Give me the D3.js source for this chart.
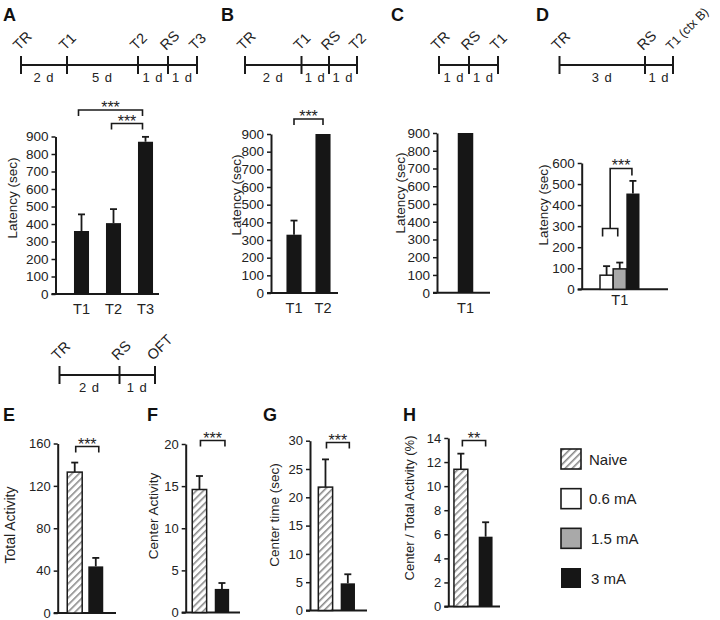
<!DOCTYPE html>
<html><head><meta charset="utf-8">
<script src="https://cdn.jsdelivr.net/npm/d3@7"></script>
<style>
body{margin:0;background:#fff}
text{font-family:"Liberation Sans",Arial,Helvetica,sans-serif;fill:#222}
</style>
</head><body>
<svg id="c" width="720" height="620"></svg>
<script>
// ---------------- DATA ----------------
// Timelines (event labels and day intervals)
const tlALabels = ["TR", "T1", "T2", "RS", "T3"];
const tlADays = [2, 5, 1, 1];
const tlBLabels = ["TR", "T1", "RS", "T2"];
const tlBDays = [2, 1, 1];
const tlCLabels = ["TR", "RS", "T1"];
const tlCDays = [1, 1];
const tlDLabels = ["TR", "RS", "T1 (ctx B)"];
const tlDDays = [3, 1];
const tlELabels = ["TR", "RS", "OFT"];
const tlEDays = [2, 1];

// Panel A
const catsA = ["T1", "T2", "T3"];
const valsA = [360, 405, 870];
const errsA = [95, 80, 28];
// Panel B
const catsB = ["T1", "T2"];
const valsB = [330, 900];
const errsB = [80, 0];
// Panel C
const catsC = ["T1"];
const valsC = [900];
const errsC = [0];
// Panel D (shock intensity groups at T1)
const groupsD = ["0.6 mA", "1.5 mA", "3 mA"];
const valsD = [67, 97, 455];
const errsD = [43, 30, 60];
// Panels E-H (Naive vs 3 mA)
const groupsEH = ["Naive", "3 mA"];
const valsE = [133, 44];
const errsE = [9, 8];
const valsF = [14.6, 2.8];
const errsF = [1.6, 0.7];
const valsG = [21.8, 4.8];
const errsG = [4.9, 1.6];
const valsH = [11.4, 5.8];
const errsH = [1.3, 1.2];
// Legend
const legendLabels = ["Naive", "0.6 mA", "1.5 mA", "3 mA"];
// Axis ticks
const ticksLatency900 = d3.range(0, 901, 100);
const ticksLatency600 = d3.range(0, 601, 100);
const ticksE = [0, 40, 80, 120, 160];
const ticksF = [0, 5, 10, 15, 20];
const ticksG = [0, 5, 10, 15, 20, 25, 30];
const ticksH = [0, 2, 4, 6, 8, 10, 12, 14];

// ---------------- STYLE ----------------
const fillFor = {"Naive": "url(#hatch)", "0.6 mA": "#ffffff", "1.5 mA": "#a9a9a9", "3 mA": "#161616"};
const INK = "#1a1a1a";

const svg = d3.select("#c");
svg.append("rect").attr("width", 720).attr("height", 620).attr("fill", "#fff");

const defs = svg.append("defs");
const pat = defs.append("pattern").attr("id", "hatch").attr("patternUnits", "userSpaceOnUse")
  .attr("width", 5).attr("height", 5).attr("patternTransform", "rotate(45)");
pat.append("rect").attr("width", 5).attr("height", 5).attr("fill", "#fff");
pat.append("line").attr("x1", 0).attr("y1", 0).attr("x2", 0).attr("y2", 5)
  .attr("stroke", "#8a8a8a").attr("stroke-width", 3.2);

// ---------------- PANEL LETTERS ----------------
const letters = [["A", 3, 21], ["B", 221, 21], ["C", 391, 21], ["D", 536, 21],
                 ["E", 3, 421], ["F", 147, 421], ["G", 263, 421], ["H", 403, 421]];
svg.selectAll("text.letter").data(letters).join("text").attr("class", "letter")
  .attr("x", d => d[1]).attr("y", d => d[2])
  .text(d => d[0]).style("font-size", "18px").style("font-weight", "bold").style("fill", "#111");

// ---------------- TIMELINES ----------------
function timeline(labels, days, positions, lineY) {
  const cum = [0];
  days.forEach(d => cum.push(cum[cum.length - 1] + d));
  const x = d3.scaleLinear().domain(cum).range(positions);
  const g = svg.append("g");
  g.append("line").attr("x1", x(0)).attr("x2", x(cum[cum.length - 1]))
    .attr("y1", lineY).attr("y2", lineY).attr("stroke", INK).attr("stroke-width", 2);
  g.selectAll("line.tk").data(cum).join("line").attr("class", "tk")
    .attr("x1", d => x(d)).attr("x2", d => x(d)).attr("y1", lineY - 9).attr("y2", lineY + 9)
    .attr("stroke", INK).attr("stroke-width", 2);
  g.selectAll("text.evt").data(labels).join("text").attr("class", "evt")
    .attr("transform", (d, i) => `translate(${x(cum[i]) - 2},${lineY - 14}) rotate(-45)`)
    .text(d => d).style("font-size", d => d.length > 3 ? "12.5px" : "14.5px");
  g.selectAll("text.dy").data(days).join("text").attr("class", "dy")
    .attr("x", (d, i) => (x(cum[i]) + x(cum[i + 1])) / 2).attr("y", lineY + 17)
    .attr("text-anchor", "middle").text(d => d + " d").style("font-size", "13px")
    .style("letter-spacing", "1px");
}
timeline(tlALabels, tlADays, [21, 67, 138, 168, 197], 65);
timeline(tlBLabels, tlBDays, [245, 301.5, 329, 357], 65);
timeline(tlCLabels, tlCDays, [439, 469, 498], 65);
timeline(tlDLabels, tlDDays, [559.5, 645, 673], 65);
timeline(tlELabels, tlEDays, [59.5, 119.5, 155], 375);

// ---------------- BAR CHARTS ----------------
function barChart(o) {
  const g = svg.append("g");
  const y = d3.scaleLinear().domain([0, o.max]).range([o.y0, o.y1]);
  const x = d3.scaleBand().domain(o.cats).range(o.xr)
    .paddingInner(o.pad).paddingOuter(o.pad / 2);
  // baseline
  g.append("line").attr("x1", o.ax - 4).attr("x2", o.bx).attr("y1", y(0)).attr("y2", y(0))
    .attr("stroke", INK).attr("stroke-width", 2);
  // y axis
  const ax = g.append("g").attr("transform", `translate(${o.ax},0)`)
    .call(d3.axisLeft(y).tickValues(o.ticks).tickSize(4).tickSizeOuter(0).tickPadding(3));
  ax.select(".domain").attr("stroke", INK).attr("stroke-width", 2);
  ax.selectAll(".tick line").attr("stroke", INK).attr("stroke-width", 1.5);
  ax.selectAll(".tick text").style("font-size", o.tf || "13.5px")
    .style("font-family", '"Liberation Sans",Arial,sans-serif').attr("fill", "#222");
  // bars
  const data = o.cats.map((c, i) => ({c, v: o.vals[i], e: o.errs[i], f: o.fills[i]}));
  g.selectAll("rect.bar").data(data).join("rect").attr("class", "bar")
    .attr("x", d => x(d.c)).attr("width", x.bandwidth())
    .attr("y", d => y(d.v)).attr("height", d => y(0) - y(d.v))
    .attr("fill", d => d.f).attr("stroke", INK).attr("stroke-width", d => d.f === "#161616" ? 0 : 1.5);
  // error bars
  const eb = data.filter(d => d.e > 0);
  const cx = d => x(d.c) + x.bandwidth() / 2;
  g.selectAll("line.ev").data(eb).join("line").attr("class", "ev")
    .attr("x1", cx).attr("x2", cx).attr("y1", d => y(d.v)).attr("y2", d => y(d.v + d.e))
    .attr("stroke", INK).attr("stroke-width", 1.8);
  g.selectAll("line.ec").data(eb).join("line").attr("class", "ec")
    .attr("x1", d => cx(d) - 3.5).attr("x2", d => cx(d) + 3.5)
    .attr("y1", d => y(d.v + d.e)).attr("y2", d => y(d.v + d.e))
    .attr("stroke", INK).attr("stroke-width", 1.8);
  // y label
  g.append("text").attr("transform", `translate(${o.lx},${o.ly}) rotate(-90)`)
    .attr("text-anchor", "middle").text(o.ylabel).style("font-size", o.lf || "13.5px").attr("fill", "#333");
  // x labels
  if (o.xlabels === "bars") {
    g.selectAll("text.xl").data(o.cats).join("text").attr("class", "xl")
      .attr("x", d => x(d) + x.bandwidth() / 2).attr("y", y(0) + 20)
      .attr("text-anchor", "middle").text(d => d).style("font-size", "14.5px");
  } else if (o.xlabels) {
    g.append("text").attr("x", (o.xr[0] + o.xr[1]) / 2).attr("y", y(0) + 16)
      .attr("text-anchor", "middle").text(o.xlabels).style("font-size", "14.5px");
  }
  // significance brackets
  (o.brackets || []).forEach(b => {
    const xa = cx(data[b.a]) + (b.da || 0), xb = cx(data[b.b]) + (b.db || 0);
    g.append("path").attr("d", `M${xa},${b.y + (b.la || 6)}V${b.y}H${xb}V${b.y + (b.lb || 6)}`)
      .attr("fill", "none").attr("stroke", INK).attr("stroke-width", 1.6);
    g.append("text").attr("x", (xa + xb) / 2 + (b.tx || 0)).attr("y", b.y + 3)
      .attr("text-anchor", "middle").text(b.t).style("font-size", "16px");
  });
  return {x, y, cx, data, g};
}

// Panel A
barChart({cats: catsA, vals: valsA, errs: errsA, fills: catsA.map(() => "#161616"),
  max: 900, y0: 294, y1: 136.5, xr: [65.5, 161.5], pad: 0.53, ax: 55.5, bx: 159,
  ticks: ticksLatency900, ylabel: "Latency (sec)", lx: 16.5, ly: 198, xlabels: "bars",
  brackets: [{a: 0, b: 2, y: 110, t: "***", da: -3, db: -3}, {a: 1, b: 2, y: 123.5, t: "***", da: -2, db: -3}]});
// Panel B
barChart({cats: catsB, vals: valsB, errs: errsB, fills: catsB.map(() => "#161616"),
  max: 900, y0: 293, y1: 134, xr: [279.5, 337.5], pad: 0.48, ax: 271, bx: 338,
  ticks: ticksLatency900, ylabel: "Latency (sec)", lx: 241, ly: 195, xlabels: "bars",
  brackets: [{a: 0, b: 1, y: 119, t: "***"}]});
// Panel C
barChart({cats: catsC, vals: valsC, errs: errsC, fills: ["#161616"],
  max: 900, y0: 292.7, y1: 133, xr: [450, 481], pad: 0.5, ax: 437, bx: 490,
  ticks: ticksLatency900, ylabel: "Latency (sec)", lx: 405, ly: 193, xlabels: "bars"});
// Panel D
const pD = barChart({cats: groupsD, vals: valsD, errs: errsD, fills: groupsD.map(g => fillFor[g]),
  max: 600, y0: 289.3, y1: 163, xr: [600, 639.5], pad: 0, ax: 581.7, bx: 668,
  ticks: ticksLatency600, ylabel: "Latency (sec)", lx: 548, ly: 205, xlabels: "T1"});
// D nested bracket
{
  const lowY = 228.5, xa = pD.cx(pD.data[0]) - 4, xb = pD.cx(pD.data[1]) - 2;
  pD.g.append("path").attr("d", `M${xa},${lowY + 8}V${lowY}H${xb}V${lowY + 8}`)
    .attr("fill", "none").attr("stroke", INK).attr("stroke-width", 1.6);
  const mid = (xa + xb) / 2, topY = 168.5, xr = pD.cx(pD.data[2]) - 1;
  pD.g.append("path").attr("d", `M${mid},${lowY}V${topY}H${xr}V${topY + 7}`)
    .attr("fill", "none").attr("stroke", INK).attr("stroke-width", 1.6);
  pD.g.append("text").attr("x", (mid + xr) / 2).attr("y", topY + 2).attr("text-anchor", "middle")
    .text("***").style("font-size", "16px");
}
// Panel E
barChart({cats: groupsEH, vals: valsE, errs: errsE, fills: groupsEH.map(g => fillFor[g]),
  max: 160, y0: 613, y1: 443.5, xr: [64.2, 106.3], pad: 0.29, ax: 57.7, bx: 116,
  ticks: ticksE, ylabel: "Total Activity", lx: 15, ly: 525, tf: "13px", lf: "14px",
  brackets: [{a: 0, b: 1, y: 446.5, t: "***", da: 1, db: 3}]});
// Panel F
barChart({cats: groupsEH, vals: valsF, errs: errsF, fills: groupsEH.map(g => fillFor[g]),
  max: 20, y0: 612.5, y1: 444, xr: [188.2, 233.2], pad: 0.36, ax: 185.7, bx: 240,
  ticks: ticksF, ylabel: "Center Activity", lx: 157.5, ly: 516, tf: "13px",
  brackets: [{a: 0, b: 1, y: 440.5, t: "***", da: 1, db: 3}]});
// Panel G
barChart({cats: groupsEH, vals: valsG, errs: errsG, fills: groupsEH.map(g => fillFor[g]),
  max: 30, y0: 610.5, y1: 440.7, xr: [314.3, 359], pad: 0.36, ax: 310, bx: 367,
  ticks: ticksG, ylabel: "Center time (sec)", lx: 279, ly: 515, tf: "13px",
  brackets: [{a: 0, b: 1, y: 442.5, t: "***", da: 1, db: 1.5}]});
// Panel H
barChart({cats: groupsEH, vals: valsH, errs: errsH, fills: groupsEH.map(g => fillFor[g]),
  max: 14, y0: 606.5, y1: 438, xr: [448.5, 498], pad: 0.44, ax: 448.3, bx: 500,
  ticks: ticksH, ylabel: "Center / Total Activity (%)", lx: 414, ly: 508, tf: "13px", lf: "13px",
  brackets: [{a: 0, b: 1, y: 440.5, t: "**", da: 1.5, db: 0}]});

// ---------------- LEGEND ----------------
const ly = d3.scalePoint().domain(legendLabels).range([459, 578]);
const lg = svg.append("g");
lg.selectAll("rect").data(legendLabels).join("rect")
  .attr("x", 561).attr("y", d => ly(d) - 10).attr("width", 20).attr("height", 20)
  .attr("fill", d => fillFor[d]).attr("stroke", INK).attr("stroke-width", d => d === "3 mA" ? 0 : 1.6);
lg.selectAll("text").data(legendLabels).join("text")
  .attr("x", (d, i) => i < 2 ? 589 : 591).attr("y", d => ly(d) + 5.5)
  .text(d => d).style("font-size", "15px");
</script>
</body></html>
